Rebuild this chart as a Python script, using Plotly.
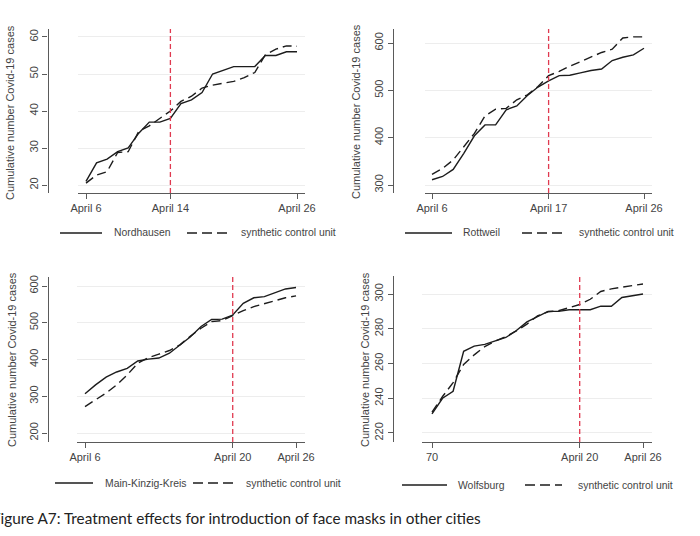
import plotly.graph_objects as go

# ---------------- data ----------------
days = list(range(6, 27))  # April 6 ... April 26

nordhausen = [21, 26, 27, 29, 30, 34, 37, 37, 38, 42, 43, 45, 50, 51, 52, 52, 52, 55, 55, 56, 56]
nordhausen_synth = [20.5, 22.7, 23.6, 28.8, 29.0, 34.5, 36.0, 38.0, 40.0, 42.6, 44.0, 46.2, 47.0,
                    47.5, 48.0, 49.0, 50.4, 55.2, 56.7, 57.6, 57.5]

rottweil = [311, 318, 333, 367, 404, 427, 427, 459, 467, 489, 507, 520, 531, 532, 537, 542, 545,
            563, 570, 575, 589]
rottweil_synth = [322.6, 335, 353, 381, 409, 446, 460, 462, 480, 490.6, 508, 531, 540, 551, 561,
                  570, 580, 587, 610.6, 613, 613]

mkk = [307, 331, 352, 366, 376, 396, 401, 404, 417, 440, 462, 490, 509, 510, 521, 553, 568, 571,
       582, 592, 596]
mkk_synth = [272, 290, 308.6, 331, 358, 390, 405, 414.5, 424.4, 440, 464, 485, 503, 506, 519.5,
             533, 544, 553, 560, 568, 573]

wolfsburg = [231, 240, 244, 267, 270, 271, 273, 275, 279, 284, 287, 290, 290, 291, 291, 291, 293,
             293, 298, 299, 300]
wolfsburg_synth = [232, 241, 249, 259.5, 265, 269.7, 273, 275.5, 278.8, 282.7, 287.5, 289.8, 290.4,
                   292, 294, 297, 301.5, 303, 304, 304.8, 305.8]

unit_names = ["Nordhausen", "Rottweil", "Main-Kinzig-Kreis", "Wolfsburg"]
actual_series = [nordhausen, rottweil, mkk, wolfsburg]
synth_series = [nordhausen_synth, rottweil_synth, mkk_synth, wolfsburg_synth]
treatment_days = [14, 17, 20, 20]

xtick_vals = [[6, 14, 26], [6, 17, 26], [6, 20, 26], [6, 20, 26]]
xtick_text = [["April 6", "April 14", "April 26"],
              ["April 6", "April 17", "April 26"],
              ["April 6", "April 20", "April 26"],
              ["70", "April 20", "April 26"]]
ytick_vals = [[20, 30, 40, 50, 60],
              [300, 400, 500, 600],
              [200, 300, 400, 500, 600],
              [220, 240, 260, 280, 300]]

y_title = "Cumulative number Covid-19 cases"
synth_label = "synthetic control unit"
caption = "Figure A7: Treatment effects for introduction of face masks in other cities"

# ---------------- layout geometry (pixels) ----------------
W, H = 700, 536


def px(p):
    return p / W


def py(p):
    return 1 - p / H


panels = [
    dict(x0=78, x1=305, y0=29, y1=193, yaxis_x=47.5, xr=[5.242, 26.758], yr=[17.84, 62.16],
         title_x=10, title_y=113, leg_y=233, leg=(60, 102, 112, 187, 230, 239)),
    dict(x0=425, x1=652, y0=29, y1=193, yaxis_x=393, xr=[5.34, 26.755], yr=[283.1, 629.6],
         title_x=356, title_y=112, leg_y=233, leg=(405, 452, 461, 522, 562, 577)),
    dict(x0=77, x1=305, y0=277, y1=442, yaxis_x=47.5, xr=[5.242, 26.85], yr=[175.5, 624.5],
         title_x=12, title_y=360, leg_y=483, leg=(55, 93, 103, 193, 235, 244)),
    dict(x0=422, x1=652, y0=276, y1=442, yaxis_x=393, xr=[5.052, 26.853], yr=[214.8, 310.4],
         title_x=365, title_y=360, leg_y=485, leg=(402, 447, 456, 525, 562, 576)),
]

FONT = "Liberation Sans, Arial, sans-serif"
LINE_COL = "#1c1c1c"
AXIS_COL = "#5a5a5a"
TEXT_COL = "#444444"
RED = "#e03a50"

fig = go.Figure()
shapes = []
annotations = []
layout_axes = {}

for i, p in enumerate(panels):
    n = i + 1
    xa = "x" if n == 1 else f"x{n}"
    ya = "y" if n == 1 else f"y{n}"
    fig.add_trace(go.Scatter(x=days, y=actual_series[i], mode="lines", name=unit_names[i],
                             xaxis=xa, yaxis=ya, showlegend=False,
                             line=dict(color=LINE_COL, width=1.4)))
    fig.add_trace(go.Scatter(x=days, y=synth_series[i], mode="lines", name=synth_label,
                             xaxis=xa, yaxis=ya, showlegend=False,
                             line=dict(color=LINE_COL, width=1.4, dash="9px,5px")))

    layout_axes["xaxis" if n == 1 else f"xaxis{n}"] = dict(
        domain=[px(p["x0"]), px(p["x1"])], range=p["xr"], anchor=ya, automargin=False,
        showline=True, linecolor=AXIS_COL, linewidth=1.3, ticks="outside", ticklen=5,
        tickcolor=AXIS_COL, tickwidth=1.2, tickvals=xtick_vals[i], ticktext=xtick_text[i],
        showgrid=False, zeroline=False, tickfont=dict(family=FONT, size=11, color=TEXT_COL),
        fixedrange=True)
    layout_axes["yaxis" if n == 1 else f"yaxis{n}"] = dict(
        domain=[py(p["y1"]), py(p["y0"])], range=p["yr"], anchor="free", automargin=False,
        position=px(p["yaxis_x"]), showline=True, linecolor=AXIS_COL, linewidth=1.3,
        ticks="outside", ticklen=5, tickcolor=AXIS_COL, tickwidth=1.2,
        tickvals=ytick_vals[i], tickangle=-90, showgrid=True, gridcolor="#ededed",
        gridwidth=1, zeroline=False, tickfont=dict(family=FONT, size=11, color=TEXT_COL),
        fixedrange=True)

    # treatment date line
    shapes.append(dict(type="line", xref=xa, yref=f"{ya} domain", x0=treatment_days[i],
                       x1=treatment_days[i], y0=0, y1=1,
                       line=dict(color=RED, width=1.3, dash="5px,3px")))

    # y-axis title
    annotations.append(dict(text=y_title, xref="paper", yref="paper", x=px(p["title_x"]),
                            y=py(p["title_y"]), textangle=-90, showarrow=False,
                            xanchor="center", yanchor="middle",
                            font=dict(family=FONT, size=11, color=TEXT_COL)))

    # legend row
    s0, s1, t1, d0, d1, t2 = p["leg"]
    ly = py(p["leg_y"])
    shapes.append(dict(type="line", xref="paper", yref="paper", x0=px(s0), x1=px(s1), y0=ly,
                       y1=ly, line=dict(color=LINE_COL, width=1.3)))
    shapes.append(dict(type="line", xref="paper", yref="paper", x0=px(d0), x1=px(d1), y0=ly,
                       y1=ly, line=dict(color=LINE_COL, width=1.3, dash="10px,5px")))
    annotations.append(dict(text=unit_names[i], xref="paper", yref="paper", x=px(t1), y=ly,
                            xanchor="left", yanchor="middle", showarrow=False,
                            font=dict(family=FONT, size=10.4, color=TEXT_COL)))
    annotations.append(dict(text=synth_label, xref="paper", yref="paper", x=px(t2), y=ly,
                            xanchor="left", yanchor="middle", showarrow=False,
                            font=dict(family=FONT, size=10.4, color=TEXT_COL)))

annotations.append(dict(text=caption, xref="paper", yref="paper", x=px(-10), y=py(518),
                        xanchor="left", yanchor="middle", showarrow=False,
                        font=dict(family="Lato, Open Sans, sans-serif", size=15.3,
                                  color="#222222")))

fig.update_layout(
    template="none",
    width=W, height=H, margin=dict(l=0, r=0, t=0, b=0, autoexpand=False),
    paper_bgcolor="white", plot_bgcolor="white",
    shapes=shapes, annotations=annotations, showlegend=False,
    **layout_axes,
)

fig.write_html("out.html")
